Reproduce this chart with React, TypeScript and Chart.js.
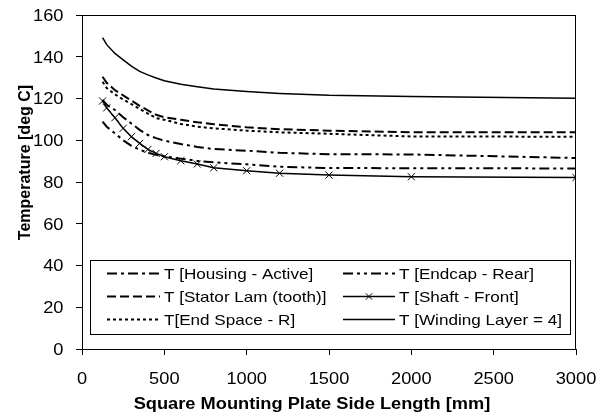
import React, { useEffect, useRef } from "react";
import { Chart, registerables } from "chart.js";
Chart.register(...registerables);

const X_VALUES = [125, 150, 200, 250, 300, 350, 400, 450, 500, 600, 700, 800, 1000, 1200, 1500, 2000, 3000];
const HOUSING_ACTIVE = [119.3, 117, 114.5, 111, 108, 105, 102.5, 101, 99.8, 98.2, 96.8, 95.8, 95.0, 94.0, 93.3, 93.2, 91.5];
const ENDCAP_REAR = [108.9, 106.5, 103.3, 100, 97.3, 95.5, 94, 93, 92.3, 91.2, 90.1, 89.4, 88.5, 87.3, 86.7, 86.6, 86.5];
const STATOR_LAM = [130.4, 127.5, 124, 121.5, 119, 116.5, 114.3, 112.2, 111, 109.8, 108.6, 107.7, 106.2, 105.3, 104.6, 103.8, 103.8];
const SHAFT_FRONT = [118.8, 115.5, 110.8, 105.7, 101.7, 98.5, 95.6, 93.7, 92.1, 90.2, 88.6, 86.8, 85.4, 84.2, 83.3, 82.5, 82.1];
const END_SPACE = [128, 125, 122, 119.5, 117.3, 115, 112.8, 110.6, 109.8, 107.8, 106.5, 105.7, 104.6, 103.8, 103.1, 101.8, 101.7];
const WINDING = [149.2, 145.8, 141.6, 138.5, 135.5, 133, 131.3, 129.8, 128.5, 126.8, 125.6, 124.5, 123.3, 122.4, 121.5, 120.9, 120.1];

const SERIES_LABELS = [
  "T [Housing - Active]",
  "T [Endcap - Rear]",
  "T [Stator Lam (tooth)]",
  "T [Shaft - Front]",
  "T[End Space - R]",
  "T [Winding Layer = 4]",
];
const X_TICKS = [0, 500, 1000, 1500, 2000, 2500, 3000];
const Y_TICKS = [0, 20, 40, 60, 80, 100, 120, 140, 160];
const X_TITLE = "Square Mounting Plate Side Length [mm]";
const Y_TITLE = "Temperature [deg C]";

const FONT = "'Liberation Sans', Arial, sans-serif";
const SX = 1.14;

function drawText(ctx: CanvasRenderingContext2D, s: string, x: number, y: number, align: CanvasTextAlign, font: string, stretch = SX) {
  ctx.save();
  ctx.font = font;
  ctx.fillStyle = "#000";
  ctx.textAlign = align;
  ctx.textBaseline = "alphabetic";
  ctx.translate(x, y);
  ctx.scale(stretch, 1);
  ctx.fillText(s, 0, 0);
  ctx.restore();
}

const decorPlugin = {
  id: "decor",
  afterDraw(chart: any) {
    const ctx: CanvasRenderingContext2D = chart.ctx;
    const area = chart.chartArea;
    const xs = chart.scales.x;
    const ys = chart.scales.y;
    ctx.save();
    ctx.strokeStyle = "#000";
    ctx.lineWidth = 1;
    ctx.strokeRect(Math.round(area.left) + 0.5, Math.round(area.top) + 0.5, Math.round(area.right - area.left) - 1, Math.round(area.bottom - area.top));
    ctx.restore();
    const tickFont = `16px ${FONT}`;
    ys.ticks.forEach((t: any) => {
      const y = ys.getPixelForValue(t.value);
      drawText(ctx, String(t.value), 63.5, y + 5.8, "right", tickFont);
    });
    xs.ticks.forEach((t: any) => {
      const x = xs.getPixelForValue(t.value);
      drawText(ctx, String(t.value), x, 383.5, "center", tickFont);
    });
    const titleFont = `bold 16px ${FONT}`;
    drawText(ctx, X_TITLE, 312, 408.5, "center", titleFont);
    ctx.save();
    ctx.font = titleFont;
    ctx.fillStyle = "#000";
    ctx.textAlign = "center";
    ctx.textBaseline = "alphabetic";
    ctx.translate(29.5, 162.5);
    ctx.rotate(-Math.PI / 2);
    ctx.fillText(Y_TITLE, 0, 0);
    ctx.restore();
    const bx = 90.5, by = 260.5, bw = 480, bh = 74;
    ctx.save();
    ctx.fillStyle = "#fff";
    ctx.fillRect(bx, by, bw, bh);
    ctx.strokeStyle = "#000";
    ctx.lineWidth = 1;
    ctx.strokeRect(bx, by, bw, bh);
    ctx.restore();
    const colX = [[107, 160, 164], [343, 395, 399]];
    const rowY = [273.5, 296.5, 319.5];
    chart.data.datasets.forEach((ds: any, i: number) => {
      const c = colX[i % 2];
      const ry = rowY[Math.floor(i / 2)];
      ctx.save();
      ctx.strokeStyle = "#000";
      ctx.lineWidth = ds.borderWidth;
      ctx.setLineDash(ds.borderDash || []);
      ctx.beginPath();
      ctx.moveTo(c[0], ry);
      ctx.lineTo(c[1], ry);
      ctx.stroke();
      ctx.setLineDash([]);
      if (ds.pointRadius > 0) {
        const cx = (c[0] + c[1]) / 2;
        const r = 3.2;
        ctx.lineWidth = 1;
        ctx.beginPath();
        ctx.moveTo(cx - r, ry - r);
        ctx.lineTo(cx + r, ry + r);
        ctx.moveTo(cx - r, ry + r);
        ctx.lineTo(cx + r, ry - r);
        ctx.stroke();
      }
      ctx.restore();
      drawText(ctx, ds.label, c[2], ry + 5.4, "left", `15px ${FONT}`);
    });
  },
};

function makeSeries(label: string, values: number[], dash: number[], width: number, marker = false) {
  return {
    label,
    data: X_VALUES.map((x, i) => ({ x, y: values[i] })),
    borderColor: "#000",
    backgroundColor: "#000",
    borderWidth: width,
    borderDash: dash,
    pointRadius: marker ? 5 : 0,
    pointStyle: "crossRot",
    pointBorderWidth: 1,
    pointBorderColor: "#000",
    tension: 0,
    fill: false,
  };
}

export default function App() {
  const ref = useRef<HTMLCanvasElement>(null);
  useEffect(() => {
    if (!ref.current) return;
    const chart = new Chart(ref.current, {
      type: "scatter",
      data: {
        datasets: [
          makeSeries(SERIES_LABELS[0], HOUSING_ACTIVE, [10, 4, 3, 4], 2),
          makeSeries(SERIES_LABELS[1], ENDCAP_REAR, [10, 4, 3, 4, 3, 4], 2),
          makeSeries(SERIES_LABELS[2], STATOR_LAM, [9, 4], 2),
          makeSeries(SERIES_LABELS[3], SHAFT_FRONT, [], 1.5, true),
          makeSeries(SERIES_LABELS[4], END_SPACE, [3, 3], 2),
          makeSeries(SERIES_LABELS[5], WINDING, [], 1.5),
        ].map((d) => ({ ...d, showLine: true })) as any,
      },
      options: {
        responsive: false,
        animation: false,
        devicePixelRatio: 1,
        layout: { padding: { top: 15, right: 24, left: 0, bottom: 0 } },
        plugins: { legend: { display: false }, tooltip: { enabled: false }, title: { display: false } },
        scales: {
          x: {
            type: "linear",
            min: 0,
            max: 3000,
            afterBuildTicks: (s: any) => {
              s.ticks = X_TICKS.map((v) => ({ value: v }));
            },
            afterFit: (s: any) => {
              s.height = 69;
            },
            ticks: { display: false },
            grid: { drawOnChartArea: false, drawTicks: true, tickLength: 6, color: "#000", lineWidth: 1 },
            border: { display: true, color: "#000", width: 1 },
          },
          y: {
            type: "linear",
            min: 0,
            max: 160,
            afterBuildTicks: (s: any) => {
              s.ticks = Y_TICKS.map((v) => ({ value: v }));
            },
            afterFit: (s: any) => {
              s.width = 82;
            },
            ticks: { display: false },
            grid: { drawOnChartArea: false, drawTicks: true, tickLength: 6, color: "#000", lineWidth: 1 },
            border: { display: true, color: "#000", width: 1 },
          },
        },
      } as any,
      plugins: [decorPlugin],
    });
    return () => chart.destroy();
  }, []);
  return (
    <div style={{ position: "fixed", left: 0, top: 0, width: 600, height: 418, background: "#fff" }}>
      <canvas ref={ref} width={600} height={418} style={{ display: "block" }} />
    </div>
  );
}
